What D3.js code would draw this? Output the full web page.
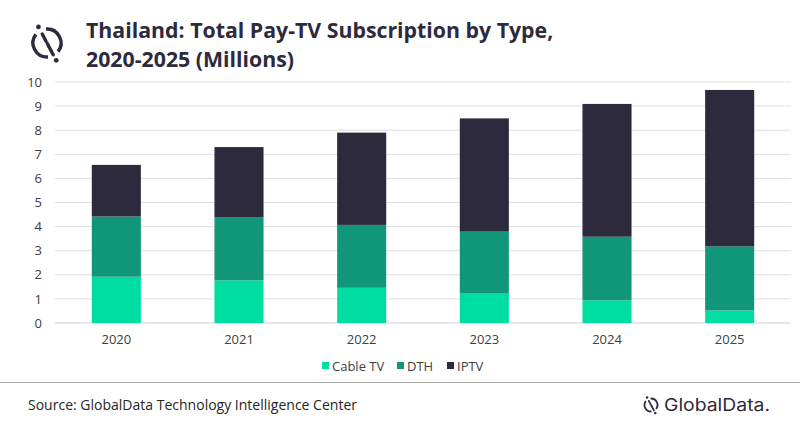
<!DOCTYPE html>
<html>
<head>
<meta charset="utf-8">
<script src="https://cdn.jsdelivr.net/npm/d3@7"></script>
<style>
  body { margin: 0; background: #fff; }
  svg { display: block; font-family: "Open Sans", "Noto Sans", sans-serif; }
</style>
</head>
<body>
<div id="chart"></div>
<script>
// chart data
const years = ["2020", "2021", "2022", "2023", "2024", "2025"]
const cableTV = [1.92, 1.77, 1.46, 1.22, 0.94, 0.52]
const dth = [2.50, 2.61, 2.61, 2.57, 2.64, 2.66]
const iptv = [2.14, 2.92, 3.83, 4.70, 5.51, 6.49]
const seriesNames = ["Cable TV", "DTH", "IPTV"]
const yTicks = [0, 1, 2, 3, 4, 5, 6, 7, 8, 9, 10]

const colors = { "Cable TV": "#00dda2", "DTH": "#12967a", "IPTV": "#2e2a3e" }

const W = 800, H = 428
const margin = { top: 82, right: 9, bottom: 105, left: 55 }
const width = W - margin.left - margin.right
const height = H - margin.top - margin.bottom

const svg = d3.select("#chart").append("svg")
  .attr("width", W)
  .attr("height", H)

// build stack rows from the arrays
const rows = years.map((y, i) => ({ year: y, "Cable TV": cableTV[i], "DTH": dth[i], "IPTV": iptv[i] }))
const stacked = d3.stack().keys(seriesNames)(rows)

const x = d3.scaleBand()
  .domain(years)
  .range([0, width])
  .paddingInner(0.6)
  .paddingOuter(0.3)

const y = d3.scaleLinear()
  .domain([0, 10])
  .range([height, 0])

const g = svg.append("g")
  .attr("transform", `translate(${margin.left},${margin.top})`)

// gridlines
g.append("g")
  .selectAll("line")
  .data(yTicks)
  .join("line")
  .attr("x1", 0)
  .attr("x2", width)
  .attr("y1", d => y(d))
  .attr("y2", d => y(d))
  .attr("stroke", d => d === 0 ? "#d0d0d0" : "#e0e0e0")
  .attr("stroke-width", 1)

// y axis labels
const yAxis = g.append("g")
  .call(d3.axisLeft(y).tickValues(yTicks).tickSize(0).tickPadding(13))
yAxis.select(".domain").remove()
yAxis.selectAll("text")
  .attr("fill", "#404040")
  .style("font-size", "13px")
  .style("font-family", "'Open Sans', sans-serif")

// x axis labels
const xAxis = g.append("g")
  .attr("transform", `translate(0,${height})`)
  .call(d3.axisBottom(x).tickSize(0).tickPadding(12))
xAxis.select(".domain").remove()
xAxis.selectAll("text")
  .attr("fill", "#404040")
  .style("font-size", "13px")
  .style("font-family", "'Open Sans', sans-serif")

// stacked bars
g.append("g")
  .selectAll("g")
  .data(stacked)
  .join("g")
  .attr("fill", d => colors[d.key])
  .selectAll("rect")
  .data(d => d)
  .join("rect")
  .attr("x", d => x(d.data.year))
  .attr("width", x.bandwidth())
  .attr("y", d => y(d[1]))
  .attr("height", d => y(d[0]) - y(d[1]))

// legend
const legendItems = [
  { name: "Cable TV", x: 322 },
  { name: "DTH", x: 397 },
  { name: "IPTV", x: 447 }
]
const legend = svg.append("g")
legend.selectAll("rect")
  .data(legendItems)
  .join("rect")
  .attr("x", d => d.x)
  .attr("y", 362)
  .attr("width", 7)
  .attr("height", 7)
  .attr("fill", d => colors[d.name])
legend.selectAll("text")
  .data(legendItems)
  .join("text")
  .attr("x", d => d.x + 10)
  .attr("y", 371)
  .attr("fill", "#404040")
  .style("font-size", "13px")
  .text(d => d.name)

// separator
svg.append("line")
  .attr("x1", 0).attr("x2", W)
  .attr("y1", 382.5).attr("y2", 382.5)
  .attr("stroke", "#a6a6a6")
  .attr("stroke-width", 1.2)

// title
const title = svg.append("text")
  .attr("fill", "#2e2a3e")
  .style("font-size", "21.3px")
  .style("font-weight", "bold")
title.append("tspan").attr("x", 86).attr("y", 38).text("Thailand: Total Pay-TV Subscription by Type,")
title.append("tspan").attr("x", 86).attr("y", 67).text("2020-2025 (Millions)")

// logo icon: broken ring crossed by a tilted stroke with two dots
const drawIcon = (sel, cx, cy, r, sw) => {
  const ink = "#2e2a3e"
  const th = -28 * Math.PI / 180
  const gap = 0.42
  const ring = d3.arc().innerRadius(r - sw / 2).outerRadius(r + sw / 2)
  const pt = (ang, d) => [cx + d * Math.sin(ang), cy - d * Math.cos(ang)]
  sel.append("path")
    .attr("transform", `translate(${cx},${cy})`)
    .attr("d", ring.startAngle(th + gap).endAngle(th + Math.PI - gap)())
    .attr("fill", ink)
  sel.append("path")
    .attr("transform", `translate(${cx},${cy})`)
    .attr("d", ring.startAngle(th + Math.PI + gap).endAngle(th + 2 * Math.PI - gap)())
    .attr("fill", ink)
  const a = pt(th, r * 0.72), b = pt(th, r * 0.15)
  const c = pt(th + Math.PI, r * 0.05), e = pt(th + Math.PI, r * 0.95)
  ;[[a, b], [c, e]].forEach(([p, q]) => {
    sel.append("line")
      .attr("x1", p[0]).attr("y1", p[1])
      .attr("x2", q[0]).attr("y2", q[1])
      .attr("stroke", ink)
      .attr("stroke-width", sw)
      .attr("stroke-linecap", "round")
  })
  ;[pt(th, r * 1.3), pt(th + Math.PI, r * 1.4)].forEach(p => {
    sel.append("circle").attr("cx", p[0]).attr("cy", p[1]).attr("r", sw * 0.7).attr("fill", ink)
  })
}
drawIcon(svg.append("g"), 47, 43, 14, 3.4)

// footer
svg.append("text")
  .attr("x", 28)
  .attr("y", 410)
  .attr("fill", "#262626")
  .style("font-size", "14px")
  .attr("textLength", 329)
  .attr("lengthAdjust", "spacingAndGlyphs")
  .text("Source: GlobalData Technology Intelligence Center")

drawIcon(svg.append("g"), 651, 405, 6.5, 1.8)
svg.append("text")
  .attr("x", 664)
  .attr("y", 411)
  .attr("fill", "#2e2a3e")
  .style("font-size", "17px")
  .style("font-family", "Inter, 'Noto Sans', sans-serif")
  .attr("textLength", 106)
  .attr("lengthAdjust", "spacingAndGlyphs")
  .text("GlobalData.")
</script>
</body>
</html>
